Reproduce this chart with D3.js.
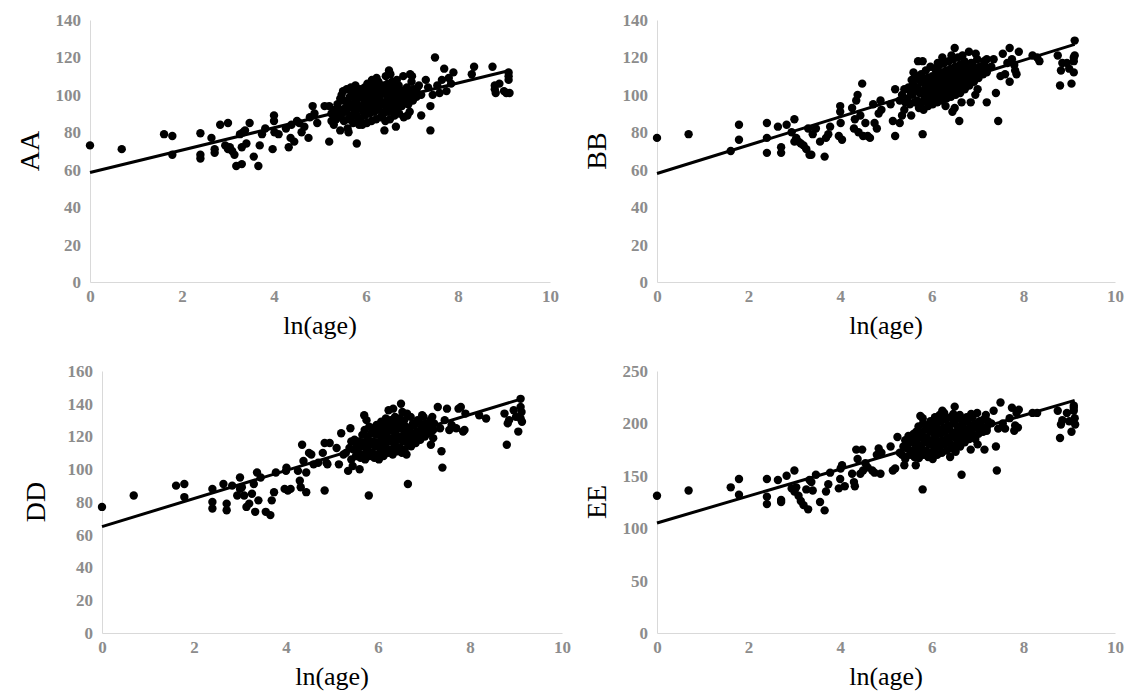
<!DOCTYPE html>
<html lang="en">
<head>
<meta charset="UTF-8">
<title>ln(age) scatter panels</title>
<script src="https://d3js.org/d3.v7.min.js"></script>
<style>
  body { margin: 0; background: #fff; }
  svg { display: block; background: #fff; }
  .axis .tick text {
    font-family: "Liberation Serif", "Times New Roman", serif;
    font-weight: bold;
    font-size: 17px;
    fill: #8c8c8c;
  }
  .axis path.domain { stroke: #d9d9d9; stroke-width: 1px; }
  .axis-title { font-family: "Liberation Serif", "Times New Roman", serif; fill: #000; }
</style>
</head>
<body>
<svg id="chart" width="1136" height="698"></svg>
<script>
// ---- data: [ln(age), value] ----
const xTicks = [0, 2, 4, 6, 8, 10];
const ticksAA = [0, 20, 40, 60, 80, 100, 120, 140];
const ticksBB = [0, 20, 40, 60, 80, 100, 120, 140];
const ticksDD = [0, 20, 40, 60, 80, 100, 120, 140, 160];
const ticksEE = [0, 50, 100, 150, 200, 250];

// fitted lines, endpoints as drawn
const trendAA = [[0, 58.5], [9.12, 113]];
const trendBB = [[0, 58], [9.12, 127]];
const trendDD = [[0, 65], [9.12, 143]];
const trendEE = [[0, 105], [9.12, 222]];

const pointsAA = [
  [0,73],[0.69,71],[1.61,79],[1.79,78],[1.79,68],[2.4,79.5],[2.4,68],[2.4,66],
  [2.64,77],[2.71,71],[2.71,69],[2.83,84],[2.94,73],[3.0,85],[3.0,71],[3.04,72],[3.09,70],[3.14,68],
  [3.18,62],[3.26,79],[3.3,63],[3.3,72],[3.33,80],[3.37,81],[3.4,74],[3.47,85],
  [3.56,67],[3.66,62],[3.69,73],[3.74,79],[3.81,82],
  [3.97,71],[4.0,89],[4.0,86],[4.01,80],[4.1,79],
  [4.26,82],[4.32,72],[4.36,77],[4.38,84],[4.44,75],[4.5,86],[4.55,85],[4.6,80],[4.66,83],[4.75,77],[4.78,88],[4.84,94],[4.88,90],[4.94,85],
  [5.1,94],[5.2,94],[5.2,75],[5.25,86],[5.3,84],[5.38,89],[5.44,81],[5.5,102],[5.6,82],[5.62,80],[5.8,74],[5.85,84],[6.4,81],[6.65,83],[7.4,81],
  [6.9,89],[6.95,91],[7.0,110],
  [7.1,99],[7.2,89],[7.2,100],[7.3,108],[7.35,104],[7.4,94],[7.45,100],[7.5,120],[7.55,105],[7.6,101],[7.65,108],[7.7,114],[7.75,102],[7.8,109],[7.85,106],[7.9,112],
  [8.3,111],[8.35,115],[8.75,115],[8.8,105],[8.8,103],[8.82,101],[8.9,106],[9.0,102],[9.1,110],[9.1,108],[9.12,101],[9.05,101],[9.1,112],
  [5.25,90],[5.32,92],[5.35,87],[7.1,103],[7.15,105],[7.05,99],
  [5.42,88],[5.46,92],[5.38,95],[5.44,98],
  [5.52,86],[5.48,90],[5.55,93],[5.51,97],[5.47,100],
  [5.61,87],[5.57,91],[5.63,94],[5.59,96],[5.65,99],[5.58,103],
  [5.72,85],[5.68,89],[5.74,92],[5.69,95],[5.76,98],[5.71,101],[5.67,104],
  [5.82,88],[5.78,90],[5.84,93],[5.79,96],[5.86,99],[5.81,102],[5.77,105],
  [5.92,84],[5.88,87],[5.94,91],[5.89,94],[5.96,97],[5.91,100],[5.87,103],
  [6.02,85],[5.98,89],[6.04,92],[5.99,95],[6.06,98],[6.01,101],[5.97,104],[6.03,106],
  [6.12,86],[6.08,90],[6.14,93],[6.09,96],[6.16,99],[6.11,102],[6.07,105],[6.13,108],
  [6.22,87],[6.18,91],[6.24,94],[6.19,97],[6.26,100],[6.21,103],[6.17,106],[6.23,109],
  [6.32,88],[6.28,92],[6.34,95],[6.29,98],[6.36,101],[6.31,104],[6.27,107],
  [6.42,86],[6.38,90],[6.44,93],[6.39,96],[6.46,99],[6.41,102],[6.37,105],[6.43,110],
  [6.52,87],[6.48,91],[6.54,94],[6.49,97],[6.56,100],[6.51,103],[6.47,106],[6.5,113],[6.53,111],
  [6.62,89],[6.58,92],[6.64,95],[6.59,98],[6.66,101],[6.61,104],[6.57,107],
  [6.72,90],[6.68,93],[6.74,96],[6.69,99],[6.76,102],[6.71,105],[6.67,108],
  [6.82,88],[6.78,94],[6.84,97],[6.79,100],[6.86,103],[6.81,110],
  [6.92,95],[6.88,98],[6.94,101],[6.89,104],[6.96,111],
  [7.02,97],[6.98,100],[7.04,103],[6.99,107]
];

const pointsBB = [
  [0,77],[0.69,79],[1.61,70],[1.79,84],[1.79,76],[2.4,85],[2.4,77],[2.4,69],
  [2.64,83],[2.71,72],[2.71,69],[2.83,84],[2.94,80],[3.0,87],[3.0,75],[3.04,77],[3.09,75],[3.14,74],[3.2,73],[3.26,71],[3.3,82],[3.33,68],[3.37,68],[3.4,79],[3.47,82],
  [3.56,75],[3.66,67],[3.69,77],[3.74,79],[3.78,83],
  [3.97,78],[4.0,94],[4.0,91],[4.01,85],[4.04,76],
  [4.26,93],[4.3,82],[4.32,87],[4.35,97],[4.38,100],[4.4,80],[4.44,89],[4.48,106],[4.5,78],[4.55,85],[4.6,78],[4.65,77],[4.72,95],[4.75,85],[4.8,82],[4.84,90],[4.88,97],[4.9,92],
  [5.1,95],[5.15,86],[5.2,78],[5.2,103],[5.3,85],[5.35,89],[5.4,92],[5.55,89],[5.6,112],[5.7,118],[5.75,95],[5.8,79],[5.8,118],
  [6.3,94],[6.45,91],[6.5,93],[6.6,86],[6.65,96],[6.85,96],[6.95,100],[7.0,103],[7.2,96],[7.4,101],[7.45,86],
  [7.2,112],[7.3,115],[7.35,119],[7.5,110],[7.55,122],[7.6,111],[7.7,107],[7.7,125],[7.75,119],[7.8,116],[7.82,113],[7.85,111],[7.9,123],[7.65,117],
  [8.2,121],[8.3,120],[8.35,118],[8.75,121],[8.8,105],[8.82,113],[8.85,117],[8.95,117],[9.0,114],[9.05,106],[9.1,112],[9.1,118],[9.12,121],[9.12,129],[9.1,120],
  [5.3,97],[5.35,100],[5.42,96],[5.4,103],[7.15,116],[7.2,119],[7.22,114],
  [5.52,95],[5.47,98],[5.54,101],[5.49,104],[5.56,108],
  [5.62,96],[5.58,100],[5.64,103],[5.59,106],[5.66,109],
  [5.72,93],[5.68,97],[5.74,101],[5.69,104],[5.76,107],[5.71,110],
  [5.82,92],[5.78,96],[5.84,99],[5.79,102],[5.86,105],[5.81,108],[5.77,111],
  [5.92,94],[5.88,97],[5.94,100],[5.89,103],[5.96,106],[5.91,109],[5.87,113],
  [6.02,95],[5.98,98],[6.04,101],[5.99,104],[6.06,107],[6.01,110],[5.97,115],
  [6.12,96],[6.08,99],[6.14,102],[6.09,105],[6.16,108],[6.11,111],[6.07,114],[6.13,117],
  [6.22,97],[6.18,100],[6.24,103],[6.19,106],[6.26,109],[6.21,112],[6.17,116],[6.23,120],
  [6.32,98],[6.28,101],[6.34,104],[6.29,107],[6.36,110],[6.31,113],[6.27,117],
  [6.42,99],[6.38,102],[6.44,105],[6.39,108],[6.46,111],[6.41,114],[6.37,118],[6.43,121],
  [6.52,100],[6.48,103],[6.54,106],[6.49,109],[6.56,112],[6.51,115],[6.47,119],[6.5,125],
  [6.62,101],[6.58,104],[6.64,107],[6.59,110],[6.66,113],[6.61,116],[6.57,120],
  [6.72,103],[6.68,106],[6.74,109],[6.69,112],[6.76,115],[6.71,118],[6.67,121],
  [6.82,105],[6.78,108],[6.84,111],[6.79,114],[6.86,117],[6.81,123],
  [6.92,107],[6.88,110],[6.94,113],[6.89,116],[6.96,122],
  [7.02,109],[6.98,112],[7.04,115],[6.99,119],
  [7.12,111],[7.08,114],[7.14,118]
];

const pointsDD = [
  [0,77],[0.69,84],[1.61,90],[1.79,91],[1.79,83],[2.4,88],[2.4,80],[2.4,76],
  [2.64,91],[2.71,79],[2.71,75],[2.83,90],[2.94,84],[3.0,95],[3.0,88],[3.04,89],[3.09,84],[3.14,77],[3.2,79],[3.26,85],[3.3,91],[3.33,74],[3.37,98],[3.4,81],[3.45,95],
  [3.56,74],[3.66,72],[3.69,81],[3.74,86],[3.78,98],
  [3.97,88],[4.0,99],[4.01,101],[4.04,87],[4.1,88],
  [4.26,99],[4.3,93],[4.32,89],[4.35,115],[4.38,105],[4.44,86],[4.44,98],[4.5,110],[4.55,109],[4.6,103],[4.7,104],[4.8,110],[4.84,87],[4.84,116],[4.88,104],[4.9,103],[4.95,116],
  [5.1,113],[5.15,103],[5.2,122],[5.25,109],[5.35,99],[5.4,125],[5.45,102],[5.55,108],[5.6,100],[5.7,133],[5.75,130],[5.8,84],[6.65,91],[7.4,101],[7.38,111],
  [7.15,115],[7.2,119],[7.3,138],[7.35,125],[7.45,130],[7.5,137],[7.55,124],[7.6,127],[7.7,125],[7.75,137],[7.8,138],[7.85,123],[7.88,124],[7.9,134],
  [8.2,133],[8.35,131],[8.75,134],[8.8,115],[8.82,128],[8.85,130],[8.95,136],[9.0,132],[9.05,123],[9.1,143],[9.1,138],[9.12,135],[9.13,129],[9.1,131],
  [5.3,110],[5.38,113],[5.42,106],[5.42,117],[7.2,124],[7.22,128],[7.18,132],
  [5.52,108],[5.47,112],[5.54,115],[5.49,118],
  [5.62,107],[5.58,110],[5.64,114],[5.59,117],[5.66,121],
  [5.72,106],[5.68,109],[5.74,113],[5.69,116],[5.76,120],[5.71,124],
  [5.82,108],[5.78,111],[5.84,115],[5.79,118],[5.86,122],[5.81,126],
  [5.92,107],[5.88,110],[5.94,114],[5.89,117],[5.96,121],[5.91,125],
  [6.02,106],[5.98,109],[6.04,113],[5.99,116],[6.06,120],[6.01,123],[5.97,127],
  [6.12,108],[6.08,111],[6.14,115],[6.09,118],[6.16,122],[6.11,125],[6.07,129],
  [6.22,110],[6.18,113],[6.24,117],[6.19,120],[6.26,124],[6.21,127],[6.17,131],[6.23,136],
  [6.32,109],[6.28,112],[6.34,116],[6.29,119],[6.36,123],[6.31,126],[6.27,130],[6.33,137],
  [6.42,111],[6.38,114],[6.44,118],[6.39,121],[6.46,125],[6.41,128],[6.37,132],
  [6.52,110],[6.48,113],[6.54,117],[6.49,120],[6.56,124],[6.51,127],[6.47,131],[6.53,135],[6.5,140],
  [6.62,109],[6.58,112],[6.64,116],[6.59,119],[6.66,123],[6.61,126],[6.57,130],[6.63,134],
  [6.72,114],[6.68,118],[6.74,121],[6.69,125],[6.76,128],[6.71,132],
  [6.82,116],[6.78,120],[6.84,123],[6.79,127],[6.86,130],
  [6.92,118],[6.88,122],[6.94,125],[6.89,129],[6.96,133],
  [7.02,120],[6.98,124],[7.04,128],[6.99,132],
  [7.12,122],[7.08,126],[7.14,130]
];

const pointsEE = [
  [0,131],[0.69,136],[1.61,139],[1.79,147],[1.79,132],[2.4,147],[2.4,130],[2.4,123],
  [2.64,146],[2.71,127],[2.71,125],[2.83,150],[2.94,138],[3.0,155],[3.0,135],[3.04,139],[3.09,131],[3.14,126],[3.2,122],[3.26,137],[3.3,118],[3.33,146],[3.37,144],[3.4,136],[3.47,151],
  [3.56,125],[3.66,117],[3.69,135],[3.74,142],[3.78,153],
  [3.97,138],[4.0,147],[4.01,157],[4.04,160],[4.1,140],
  [4.26,152],[4.3,144],[4.32,140],[4.35,175],[4.38,166],[4.44,152],[4.48,175],[4.5,155],[4.55,162],[4.6,158],[4.7,155],[4.75,153],[4.8,170],[4.84,176],[4.88,152],[4.9,172],
  [5.1,178],[5.15,155],[5.2,157],[5.25,187],[5.35,170],[5.4,160],[5.5,183],[5.6,190],[5.65,160],[5.75,207],[5.8,205],[5.8,137],
  [6.4,168],[6.65,151],[6.85,175],[6.95,185],[7.0,180],[7.15,175],[7.2,193],[7.4,178],[7.42,155],
  [7.3,200],[7.35,212],[7.45,195],[7.5,220],[7.55,200],[7.6,195],[7.7,205],[7.75,215],[7.8,193],[7.82,198],[7.85,210],[7.88,196],[7.9,213],
  [8.2,210],[8.3,210],[8.75,212],[8.8,186],[8.82,199],[8.85,203],[8.95,210],[9.0,202],[9.05,192],[9.1,212],[9.1,217],[9.12,205],[9.13,199],[9.1,215],
  [5.3,172],[5.38,178],[5.42,166],[5.42,184],[7.2,196],[7.22,202],[7.18,208],
  [5.52,170],[5.47,176],[5.54,182],[5.49,188],
  [5.62,168],[5.58,174],[5.64,180],[5.59,186],[5.66,192],
  [5.72,167],[5.68,173],[5.74,179],[5.69,185],[5.76,191],[5.71,197],
  [5.82,170],[5.78,176],[5.84,182],[5.79,188],[5.86,194],[5.81,200],
  [5.92,168],[5.88,174],[5.94,180],[5.89,186],[5.96,192],[5.91,198],
  [6.02,166],[5.98,172],[6.04,178],[5.99,184],[6.06,190],[6.01,196],[5.97,202],
  [6.12,170],[6.08,176],[6.14,182],[6.09,188],[6.16,194],[6.11,200],[6.07,206],
  [6.22,172],[6.18,178],[6.24,184],[6.19,190],[6.26,196],[6.21,202],[6.17,208],[6.23,212],
  [6.32,174],[6.28,180],[6.34,186],[6.29,192],[6.36,198],[6.31,204],[6.27,210],
  [6.42,176],[6.38,182],[6.44,188],[6.39,194],[6.46,200],[6.41,206],
  [6.52,173],[6.48,179],[6.54,185],[6.49,191],[6.56,197],[6.51,203],[6.47,209],[6.5,216],
  [6.62,178],[6.58,184],[6.64,190],[6.59,196],[6.66,202],[6.61,208],
  [6.72,182],[6.68,188],[6.74,194],[6.69,200],[6.76,206],
  [6.82,185],[6.78,191],[6.84,197],[6.79,203],[6.86,209],
  [6.92,188],[6.88,194],[6.94,200],[6.89,206],
  [7.02,190],[6.98,196],[7.04,202],[6.99,210],
  [7.12,192],[7.08,198],[7.14,204]
];

// ---- layout: plot box = [left, top, right, bottom] ----
const panels = [
  { label: "AA", points: pointsAA, trend: trendAA, yTicks: ticksAA, box: [90, 20, 550, 282], labelX: 30 },
  { label: "BB", points: pointsBB, trend: trendBB, yTicks: ticksBB, box: [657, 20, 1115, 282], labelX: 597 },
  { label: "DD", points: pointsDD, trend: trendDD, yTicks: ticksDD, box: [102, 371, 562, 633], labelX: 36 },
  { label: "EE", points: pointsEE, trend: trendEE, yTicks: ticksEE, box: [657, 371, 1115, 633], labelX: 597 }
];

const svg = d3.select("#chart");

panels.forEach(p => {
  const [left, top, right, bottom] = p.box;
  const x = d3.scaleLinear().domain([0, 10]).range([left, right]);
  const y = d3.scaleLinear().domain([0, d3.max(p.yTicks)]).range([bottom, top]);
  const g = svg.append("g");

  // axes: light grey lines, no tick marks
  g.append("g")
    .attr("class", "axis")
    .attr("transform", `translate(0,${bottom})`)
    .call(d3.axisBottom(x).tickValues(xTicks).tickSize(0).tickSizeOuter(0).tickPadding(8));

  g.append("g")
    .attr("class", "axis")
    .attr("transform", `translate(${left},0)`)
    .call(d3.axisLeft(y).tickValues(p.yTicks).tickSize(0).tickSizeOuter(0).tickPadding(9));

  // points
  g.append("g")
    .selectAll("circle")
    .data(p.points)
    .enter()
    .append("circle")
    .attr("cx", d => x(d[0]))
    .attr("cy", d => y(d[1]))
    .attr("r", 4.2)
    .attr("fill", "#000");

  // trend line
  g.append("path")
    .datum(p.trend)
    .attr("fill", "none")
    .attr("stroke", "#000")
    .attr("stroke-width", 3)
    .attr("d", d3.line().x(d => x(d[0])).y(d => y(d[1])));

  // axis titles
  g.append("text")
    .attr("class", "axis-title")
    .attr("x", (left + right) / 2)
    .attr("y", bottom + 52)
    .attr("text-anchor", "middle")
    .style("font-size", "26px")
    .text("ln(age)");

  g.append("text")
    .attr("class", "axis-title")
    .attr("transform", `translate(${p.labelX + 9},${(top + bottom) / 2}) rotate(-90)`)
    .attr("text-anchor", "middle")
    .style("font-size", "28px")
    .text(p.label);
});
</script>
</body>
</html>
